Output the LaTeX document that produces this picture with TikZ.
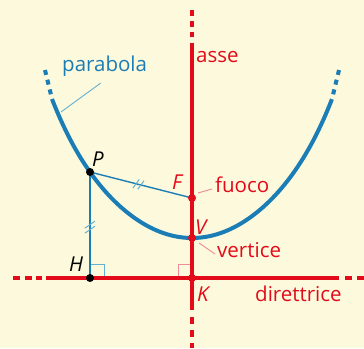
\documentclass[tikz,border=0pt]{standalone}
\usepackage{fontspec}
\setmainfont{Open Sans}
\usetikzlibrary{calc}
\definecolor{bgc}{HTML}{FDF9DC}
\definecolor{blu}{HTML}{1B7DB6}
\definecolor{lblu}{HTML}{63B1D3}
\definecolor{rd}{HTML}{E30A1A}
\definecolor{pnk}{HTML}{EE8C98}
\begin{document}
\begin{tikzpicture}[x=1pt,y=1pt,
  bdot/.style={circle,fill=black,inner sep=0pt,minimum size=8pt},
  rdot/.style={circle,fill=rd,inner sep=0pt,minimum size=8pt},
  curve/.style={draw=blu,line width=4pt},
  segline/.style={draw=blu,line width=1.4pt},
  redline/.style={draw=rd,line width=4pt},
  tickmark/.style={draw=lblu,line width=1pt},
  bleader/.style={draw=lblu,line width=0.9pt},
  rleader/.style={draw=pnk,line width=0.9pt},
  blab/.style={font=\fontsize{20.5}{24}\selectfont,text=blu,inner sep=0pt},
  rlab/.style={font=\fontsize{20.5}{24}\selectfont,text=rd,inner sep=0pt},
  klab/.style={font=\fontsize{20.5}{24}\selectfont\itshape,text=black,inner sep=0pt},
  rklab/.style={font=\fontsize{20.5}{24}\selectfont\itshape,text=rd,inner sep=0pt}]
\fill[bgc] (0,0) rectangle (364,348);
\useasboundingbox (0,0) rectangle (364,348);
% key coordinates
\coordinate (Pc) at (90,176);
\coordinate (Hc) at (90,70);
\coordinate (Kc) at (192,70);
\coordinate (Fc) at (192,150);
\coordinate (Vc) at (192,110);
\coordinate (dL1) at (13,70);
\coordinate (dL2) at (42,70);
\coordinate (dL) at (46,70);
\coordinate (dR) at (339,70);
\coordinate (dR2) at (345,70);
\coordinate (dR1) at (364,70);
\coordinate (aT1) at (192,338);
\coordinate (aT2) at (192,311);
\coordinate (aT) at (192,305);
\coordinate (aB) at (192,38);
\coordinate (aB2) at (192,31);
\coordinate (aB1) at (192,0);
\coordinate (cL) at (52,249);
\coordinate (cLd) at (45,278);
\coordinate (cR) at (332,249);
\coordinate (cRd) at (339,278);
% right angle marks
\draw[lblu,line width=0.9pt] ([yshift=14pt]Hc) -| ([xshift=14pt]Hc);
\draw[pnk,line width=0.9pt] ([yshift=14pt]Kc) -| ([xshift=-14pt]Kc);
% segments PH, PF
\draw[segline] (Pc) -- (Hc);
\draw[segline] (Pc) -- (Fc);
% tick marks
\begin{scope}[shift={($(Pc)!0.48!(Fc)$)},rotate=-14.3]
  \draw[tickmark] (-5,-5) -- (-1,5);
  \draw[tickmark] (0,-5) -- (4,5);
\end{scope}
\begin{scope}[shift={($(Pc)!0.52!(Hc)$)}]
  \draw[tickmark] (-5,-6) -- (5,1);
  \draw[tickmark] (-5,-1) -- (5,6);
\end{scope}
% directrix
\draw[redline] (dL) -- (dR);
\draw[redline,dash pattern=on 7pt off 4.5pt] (dL1) -- (dL2);
\draw[redline,dash pattern=on 7pt off 5pt] (dR1) -- (dR2);
% axis
\draw[redline] (aT) -- (aB);
\draw[redline,dash pattern=on 6pt off 5pt] (aT1) -- (aT2);
\draw[redline,dash pattern=on 7pt off 6pt] (aB2) -- (aB1);
% parabola
\draw[curve] plot[domain=-1:1,samples=121,smooth] ({192+140*\x},{110+118.4*\x*\x+20.6*\x*\x*\x*\x*\x*\x});
\draw[curve,dash pattern=on 5pt off 5pt] (cLd) -- (cL);
\draw[curve,dash pattern=on 5pt off 5pt] (cRd) -- (cR);
% labels
\node[blab,anchor=base west] (lpar) at (62,276) {parabola};
\coordinate (parfoot) at (61,236);
\draw[bleader] (parfoot) -- ([xshift=-4pt,yshift=-6pt]lpar.south);
\node[rlab,anchor=base west] (lasse) at (196,285) {asse};
\node[rlab,anchor=base west] (lfuoco) at (215,155) {fuoco};
\node[rlab,anchor=base west] (lvert) at (217,90) {vertice};
\node[rlab,anchor=base west] (ldir) at (255,46) {direttrice};
\draw[rleader] ([shift={(6pt,5pt)}]Fc) -- ([shift={(-3pt,4pt)}]lfuoco.base west);
\draw[rleader] ([shift={(7pt,-5pt)}]Vc) -- ([shift={(-2pt,4pt)}]lvert.base west);
\node[klab,anchor=base west] (lP) at (92,181) {P};
\node[klab,anchor=base west] (lH) at (69,76) {H};
\node[rklab,anchor=base west] (lF) at (172,158) {F};
\node[rklab,anchor=base west] (lV) at (195,113) {V};
\node[rklab,anchor=base west] (lK) at (197,46) {K};
% dots
\node[bdot] (P) at (Pc) {};
\node[bdot] (H) at (Hc) {};
\node[rdot] (F) at (Fc) {};
\node[rdot] (V) at (Vc) {};
\node[rdot] (K) at (Kc) {};
\end{tikzpicture}
\end{document}
